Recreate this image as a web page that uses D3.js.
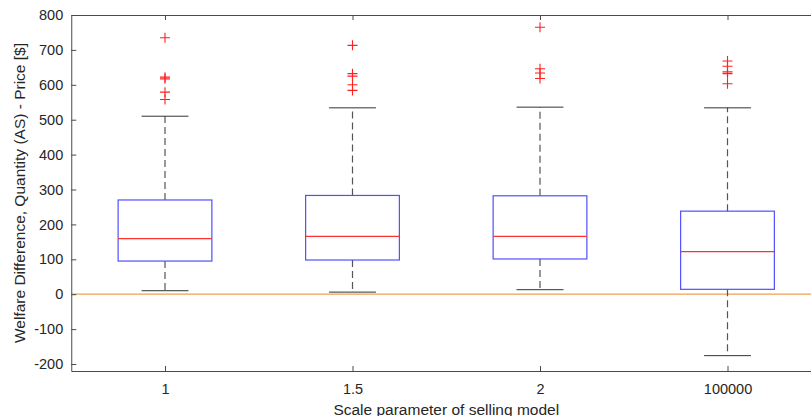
<!DOCTYPE html>
<html>
<head>
<meta charset="utf-8">
<script src="https://cdn.jsdelivr.net/npm/d3@7"></script>
<style>
  body { margin: 0; background: #fff; }
  svg { display: block; font-family: "Liberation Sans", Arial, sans-serif; }
  .axis text { fill: #262626; font-size: 14.5px; }
  .axis line, .axis path { stroke: #4a4a4a; }
</style>
</head>
<body>
<script>
// Box plot summary per scale parameter
var categories = ["1", "1.5", "2", "100000"];
var whiskerLow = [10, 6, 13, -176];
var q1 = [95, 98, 101, 14];
var medians = [159, 166, 166, 122];
var q3 = [270, 283, 282, 238];
var whiskerHigh = [510, 534, 536, 534];
var outliers = [
  [735, 622, 617, 579, 558],
  [713, 632, 625, 600, 584],
  [765, 646, 634, 618],
  [668, 653, 637, 632, 603]
];
var yTicks = [-200, -100, 0, 100, 200, 300, 400, 500, 600, 700, 800];

var W = 811, H = 416;
var plot = {left: 71.25, right: 821.25, top: 15, bottom: 371};

var svg = d3.select("body").append("svg")
    .attr("width", W)
    .attr("height", H);

var x = d3.scaleLinear()
    .domain([0.5, categories.length + 0.5])
    .range([plot.left, plot.right]);

var y = d3.scaleLinear()
    .domain([-220, 800])
    .range([plot.bottom, plot.top]);

var boxHalf = x(1.25) - x(1);
var capHalf = x(1.125) - x(1);

// zero reference line
svg.append("line")
    .attr("x1", plot.left).attr("x2", plot.right)
    .attr("y1", y(0)).attr("y2", y(0))
    .attr("stroke", "#f0a050")
    .attr("stroke-width", 1.3);

var idx = d3.range(categories.length);
var g = svg.selectAll("g.box")
    .data(idx)
    .enter().append("g")
    .attr("class", "box");

// dashed whiskers
g.append("line")
    .attr("x1", function(i) { return x(i + 1); })
    .attr("x2", function(i) { return x(i + 1); })
    .attr("y1", function(i) { return y(q3[i]); })
    .attr("y2", function(i) { return y(whiskerHigh[i]); })
    .attr("stroke", "#555").attr("stroke-width", 1.2)
    .attr("stroke-dasharray", "7,4");
g.append("line")
    .attr("x1", function(i) { return x(i + 1); })
    .attr("x2", function(i) { return x(i + 1); })
    .attr("y1", function(i) { return y(q1[i]); })
    .attr("y2", function(i) { return y(whiskerLow[i]); })
    .attr("stroke", "#555").attr("stroke-width", 1.2)
    .attr("stroke-dasharray", "7,4");

// whisker caps
[whiskerHigh, whiskerLow].forEach(function(arr) {
  g.append("line")
      .attr("x1", function(i) { return x(i + 1) - capHalf; })
      .attr("x2", function(i) { return x(i + 1) + capHalf; })
      .attr("y1", function(i) { return y(arr[i]); })
      .attr("y2", function(i) { return y(arr[i]); })
      .attr("stroke", "#333").attr("stroke-width", 1);
});

// boxes
g.append("rect")
    .attr("x", function(i) { return x(i + 1) - boxHalf; })
    .attr("width", boxHalf * 2)
    .attr("y", function(i) { return y(q3[i]); })
    .attr("height", function(i) { return y(q1[i]) - y(q3[i]); })
    .attr("fill", "none")
    .attr("stroke", "#5050ff")
    .attr("stroke-width", 1.2);

// medians
g.append("line")
    .attr("x1", function(i) { return x(i + 1) - boxHalf; })
    .attr("x2", function(i) { return x(i + 1) + boxHalf; })
    .attr("y1", function(i) { return y(medians[i]); })
    .attr("y2", function(i) { return y(medians[i]); })
    .attr("stroke", "#ff3030").attr("stroke-width", 1.2);

// outliers as red plus markers
var pts = [];
outliers.forEach(function(arr, i) {
  arr.forEach(function(v) { pts.push({i: i, v: v}); });
});
var m = 5;
svg.selectAll("path.outlier")
    .data(pts)
    .enter().append("path")
    .attr("class", "outlier")
    .attr("d", function(d) {
      var cx = x(d.i + 1), cy = y(d.v);
      return "M" + (cx - m) + "," + cy + "H" + (cx + m) +
             "M" + cx + "," + (cy - m) + "V" + (cy + m);
    })
    .attr("stroke", "#ff2020")
    .attr("stroke-width", 1.1)
    .attr("fill", "none");

// axes (inward ticks, MATLAB-like box)
var xAxis = d3.axisBottom(x)
    .tickValues([1, 2, 3, 4])
    .tickFormat(function(d) { return categories[d - 1]; })
    .tickSizeInner(-5).tickSizeOuter(0).tickPadding(13);
svg.append("g")
    .attr("class", "axis")
    .attr("transform", "translate(0," + plot.bottom + ")")
    .call(xAxis);

svg.append("g")
    .attr("class", "axis")
    .attr("transform", "translate(0," + plot.top + ")")
    .call(d3.axisTop(x).tickValues([1, 2, 3, 4]).tickFormat("")
      .tickSizeInner(-5).tickSizeOuter(0));

svg.append("g")
    .attr("class", "axis")
    .attr("transform", "translate(" + plot.left + ",0)")
    .call(d3.axisLeft(y).tickValues(yTicks)
      .tickFormat(function(d) { return String(d); }) // plain hyphen like the original
      .tickSizeInner(-5).tickSizeOuter(0).tickPadding(8));

svg.append("g")
    .attr("class", "axis")
    .attr("transform", "translate(" + plot.right + ",0)")
    .call(d3.axisRight(y).tickValues(yTicks).tickFormat("")
      .tickSizeInner(-5).tickSizeOuter(0));

// axis titles
svg.append("text")
    .attr("x", (plot.left + plot.right) / 2)
    .attr("y", 415)
    .attr("text-anchor", "middle")
    .attr("fill", "#262626")
    .style("font-size", "15.5px")
    .text("Scale parameter of selling model");

svg.append("text")
    .attr("transform", "translate(25," + ((plot.top + plot.bottom) / 2) + ") rotate(-90)")
    .attr("text-anchor", "middle")
    .attr("fill", "#262626")
    .style("font-size", "15.5px")
    .text("Welfare Difference, Quantity (AS) - Price [$]");
</script>
</body>
</html>
